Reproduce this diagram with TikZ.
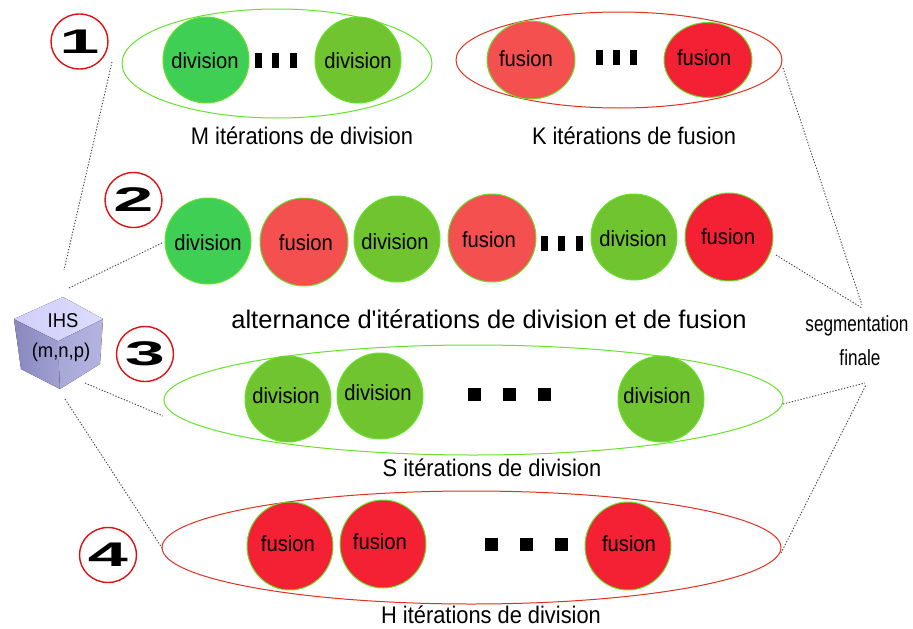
\documentclass[tikz,border=0pt]{standalone}
\usepackage{fontspec}
\setmainfont{Liberation Sans}
\usetikzlibrary{shapes.geometric}
\definecolor{gA}{HTML}{3FCF55}
\definecolor{gB}{HTML}{70C430}
\definecolor{rA}{HTML}{F55050}
\definecolor{rB}{HTML}{F42033}
\definecolor{edgeG}{HTML}{66E22A}
\definecolor{edgeR}{HTML}{E0301E}
\definecolor{numR}{HTML}{DD1111}
\definecolor{cLa}{HTML}{8888BE}
\definecolor{cLb}{HTML}{A0A0D2}
\definecolor{cRa}{HTML}{A8A8D8}
\definecolor{cRb}{HTML}{B4B4E0}
\definecolor{cTa}{HTML}{CFCFFA}
\definecolor{cTb}{HTML}{DCDCFF}
\tikzset{
  every node/.style={inner sep=0pt,outer sep=0pt},
  cell/.style={ellipse,draw=edgeG,line width=1pt,minimum width=#1,minimum height=#1},
  lab/.style={font=\fontsize{22}{22}\selectfont,xscale=0.92,text=black},
  seglab/.style={font=\fontsize{22}{22}\selectfont,xscale=0.78,text=black},
  divn/.style={cell=86pt,fill=gB},
  divA/.style={cell=86pt,fill=gA},
  fusn/.style={cell=88pt,fill=rA},
  fusB/.style={cell=88pt,fill=rB},
  ringG/.style={ellipse,draw=edgeG,line width=1pt},
  ringR/.style={ellipse,draw=edgeR,line width=1pt},
  numc/.style={ellipse,draw=numR,line width=1.4pt,fill=white,minimum width=57pt,minimum height=55pt},
  numt/.style={font=\bfseries\fontsize{36}{36}\selectfont,xscale=2,yscale=0.95},
  sq/.style={rectangle,fill=black,minimum width=7pt,minimum height=15pt},
  sqb/.style={rectangle,fill=black,minimum width=13pt,minimum height=13pt},
  captxt/.style={font=\fontsize{24}{24}\selectfont,xscale=0.91},
  cubetxt/.style={font=\fontsize{20}{20}\selectfont,xscale=0.92},
  link/.style={draw=black!75,line width=0.9pt,dash pattern=on 1.3pt off 1.7pt}
}
\begin{document}
\begin{tikzpicture}[x=1pt,y=-1pt]
\useasboundingbox (0,0) rectangle (913,629);
% rings
\node[ringG,minimum width=310pt,minimum height=109pt] (e1) at (277,63.5) {};
\node[ringR,minimum width=326pt,minimum height=96pt] (e2) at (619,60) {};
\node[ringG,minimum width=619pt,minimum height=110pt] (e3) at (473.5,400) {};
\node[ringR,minimum width=619pt,minimum height=113pt] (e4) at (471.5,547.5) {};
% row 1
\node[divA] (a1) at (206,60) {}; \node[lab] at (205,60.5) {division};
\node[divn] (a2) at (358,60) {}; \node[lab] at (358,60.5) {division};
\node[sq] (a3) at (258.5,60.5) {}; \node[sq] (a4) at (275.5,60.5) {}; \node[sq] (a5) at (293.5,60.5) {};
\node[fusn,minimum height=78pt] (b1) at (531,60) {}; \node[lab] at (526,58.5) {fusion};
\node[fusB,minimum height=75pt] (b2) at (708,60) {}; \node[lab] at (704,58) {fusion};
\node[sq] (b3) at (599.5,57.5) {}; \node[sq] (b4) at (616.5,57.5) {}; \node[sq] (b5) at (633.5,57.5) {};
% row 2
\node[divA] (c1) at (208,241) {}; \node[lab] at (208,243) {division};
\node[fusn] (c2) at (304,242) {}; \node[lab] at (306,243) {fusion};
\node[divn] (c3) at (397,239) {}; \node[lab] at (395,242) {division};
\node[fusn] (c4) at (492,238) {}; \node[lab] at (489,240) {fusion};
\node[divn] (c5) at (634,237) {}; \node[lab] at (633,239) {division};
\node[fusB] (c6) at (729,237) {}; \node[lab] at (728,237) {fusion};
\node[sq] (c7) at (544.5,243) {}; \node[sq] (c8) at (561.5,243) {}; \node[sq] (c9) at (579.5,243) {};
% row 3
\node[divn] (d1) at (288,399) {}; \node[lab] at (286,396) {division};
\node[divn] (d2) at (380,396) {}; \node[lab] at (378,393) {division};
\node[divn] (d3) at (661,399) {}; \node[lab] at (657,396) {division};
\node[sqb] (d4) at (474.5,394.5) {}; \node[sqb] (d5) at (509.5,394.5) {}; \node[sqb] (d6) at (544.5,394.5) {};
% row 4
\node[fusB,minimum width=86pt] (f1) at (290,546) {}; \node[lab] at (288,544) {fusion};
\node[fusB,minimum width=86pt] (f2) at (383,544) {}; \node[lab] at (380,542) {fusion};
\node[fusB,minimum width=86pt] (f3) at (628,546) {}; \node[lab] at (629,544) {fusion};
\node[sqb] (f4) at (491.5,544.5) {}; \node[sqb] (f5) at (526.5,544.5) {}; \node[sqb] (f6) at (561.5,544.5) {};
% numbers
\node[numc] (n1) at (79.5,41.5) {}; \node[numt] at (n1) {1};
\node[numc] (n2) at (133.5,200) {}; \node[numt] at (n2) {2};
\node[numc] (n3) at (145,354) {}; \node[numt] at (n3) {3};
\node[numc] (n4) at (108,555) {}; \node[numt] at (n4) {4};
% captions
\node[captxt] (t1) at (302,136) {M itérations de division};
\node[captxt] (t2) at (634,136) {K itérations de fusion};
\node[font=\fontsize{25.5}{25.5}\selectfont] (t3) at (489,319) {alternance d\textquotesingle itérations de division et de fusion};
\node[captxt] (t4) at (492,468) {S itérations de division};
\node[captxt] (t5) at (491,615) {H itérations de division};
\node[seglab] (seg) at (857,326) {segmentation};
\node[seglab] (fin) at (860,358) {finale};
% cube
\fill[left color=cLa,right color=cLb] (14,319) -- (58,341) -- (60,389) -- (21,369) -- cycle;
\fill[left color=cRa,right color=cRb] (58,341) -- (103,319) -- (100,364) -- (60,389) -- cycle;
\fill[left color=cTa,right color=cTb] (14,319) -- (63,297) -- (103,319) -- (58,341) -- cycle;
\node[cubetxt] (ihs) at (63,321) {IHS};
\node[cubetxt] (mnp) at (61,352) {(m,n,p)};
% connectors
\coordinate (s1) at (112,62); \coordinate (s1b) at (64,270);
\coordinate (s2) at (69,288); \coordinate (s2b) at (162,243);
\coordinate (s3) at (85,383); \coordinate (s3b) at (163,416);
\coordinate (s4) at (65,399); \coordinate (s4b) at (162,548);
\coordinate (r1) at (783,68); \coordinate (r1b) at (862,305);
\coordinate (r2) at (776,255); \coordinate (r2b) at (862,308);
\coordinate (r3) at (783,404); \coordinate (r3b) at (865,383);
\coordinate (r4) at (781,553); \coordinate (r4b) at (866,385);
\draw[link] (s1) -- (s1b);
\draw[link] (s2) -- (s2b);
\draw[link] (s3) -- (s3b);
\draw[link] (s4) -- (s4b);
\draw[link] (r1) -- (r1b);
\draw[link] (r2) -- (r2b);
\draw[link] (r3) -- (r3b);
\draw[link] (r4) -- (r4b);
\end{tikzpicture}
\end{document}
